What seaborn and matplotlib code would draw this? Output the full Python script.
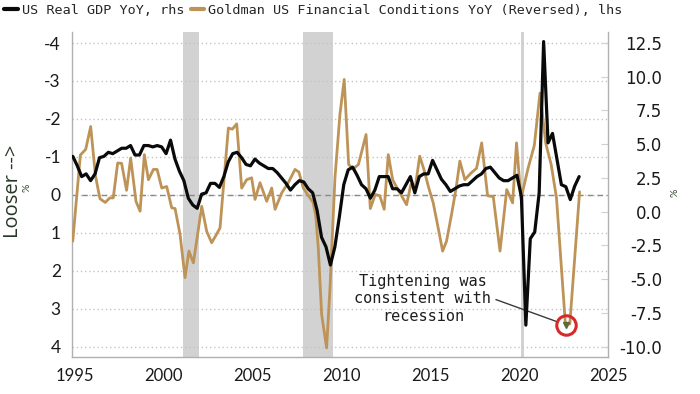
import numpy as np
import pandas as pd
import matplotlib
matplotlib.use("Agg")
import matplotlib.pyplot as plt
from matplotlib.ticker import FixedLocator
import seaborn as sns

# ---------------- data ----------------
gdp_label = "US Real GDP YoY, rhs"
fci_label = "Goldman US Financial Conditions YoY (Reversed), lhs"

# US real GDP YoY (%), quarterly, first point 1994 Q4
gdp_first_quarter = 1994.875
gdp_values = [
    4.1,
    3.4, 2.6, 2.8, 2.3,      # 1995
    2.8, 4.0, 4.1, 4.4,      # 1996
    4.3, 4.5, 4.7, 4.7,      # 1997
    4.9, 4.2, 4.2, 4.9,      # 1998
    4.9, 4.8, 4.9, 4.8,      # 1999
    4.3, 5.3, 3.9, 3.0,      # 2000
    2.3, 1.0, 0.5, 0.25,     # 2001
    1.3, 1.4, 2.1, 2.1,      # 2002
    1.8, 2.6, 3.7, 4.3,      # 2003
    4.4, 4.0, 3.5, 3.4,      # 2004
    3.9, 3.6, 3.4, 3.2,      # 2005
    3.2, 2.9, 2.5, 2.1,      # 2006
    1.6, 2.0, 2.3, 2.2,      # 2007
    1.7, 1.4, 0.1, -1.9,     # 2008
    -2.6, -3.95, -2.6, -0.4, # 2009
    2.0, 3.1, 3.3, 2.7,      # 2010
    2.0, 1.7, 1.0, 1.6,      # 2011
    2.6, 2.6, 2.6, 1.7,      # 2012
    1.7, 1.4, 2.0, 2.6,      # 2013
    1.4, 2.6, 2.8, 2.8,      # 2014
    3.8, 3.1, 2.4, 2.0,      # 2015
    1.5, 1.7, 1.9, 2.0,      # 2016
    2.0, 2.3, 2.6, 2.8,      # 2017
    3.2, 3.3, 2.9, 2.5,      # 2018
    2.3, 2.3, 2.5, 2.7,      # 2019
    1.1, -8.4, -2.0, -1.5,   # 2020
    1.4, 12.6, 5.1, 5.8,     # 2021
    3.9, 2.0, 1.85, 0.9,     # 2022
    1.9, 2.6,                # 2023
]

# Goldman FCI YoY change (axis reversed)
fci_dates = [
    1994.87, 1995.30, 1995.60, 1995.88, 1996.15, 1996.40, 1996.70, 1996.95,
    1997.15, 1997.40, 1997.62, 1997.90, 1998.13, 1998.43, 1998.66, 1998.90,
    1999.13, 1999.41, 1999.62, 1999.88, 2000.16, 2000.44, 2000.63, 2000.91,
    2001.19, 2001.41, 2001.66, 2001.88, 2002.13, 2002.41, 2002.69, 2002.95,
    2003.16, 2003.44, 2003.63, 2003.85, 2004.10, 2004.38, 2004.66, 2004.94,
    2005.13, 2005.41, 2005.79, 2006.07, 2006.26, 2006.63, 2007.00, 2007.38,
    2007.60, 2007.85, 2008.10, 2008.40, 2008.55, 2008.69, 2008.88, 2009.16,
    2009.35, 2009.63, 2009.91, 2010.15, 2010.40, 2010.65, 2010.95, 2011.38,
    2011.62, 2011.90, 2012.15, 2012.40, 2012.63, 2012.88, 2013.10, 2013.35,
    2013.66, 2013.90, 2014.13, 2014.40, 2014.65, 2014.90, 2015.16, 2015.44,
    2015.69, 2015.91, 2016.19, 2016.45, 2016.66, 2016.94, 2017.30, 2017.60,
    2017.89, 2018.22, 2018.54, 2018.92, 2019.30, 2019.63, 2019.85, 2020.10,
    2020.50, 2020.85, 2021.17, 2021.50, 2021.80, 2022.10, 2022.60, 2022.85,
    2023.40,
]
fci_values = [
    1.22, -1.05, -1.20, -1.80, -0.50, 0.10, 0.20, 0.08,
    0.08, -0.84, -0.83, -0.12, -0.97, 0.17, 0.43, -1.06,
    -0.40, -0.67, -0.67, -0.18, -0.22, 0.34, 0.36, 1.04,
    2.18, 1.48, 1.79, 1.10, 0.30, 0.96, 1.26, 1.05,
    0.87, -0.71, -1.76, -1.73, -1.87, -0.18, -0.40, -0.45,
    0.12, -0.32, 0.17, -0.18, 0.38, -0.05, -0.32, -0.67,
    -0.60, -0.18, 0.00, 0.20, 0.55, 1.39, 3.15, 4.03,
    2.45, -0.45, -2.12, -3.04, -0.80, -0.68, -0.80, -1.59,
    0.36, -0.01, 0.02, 0.38, -1.06, -0.40, -0.20, 0.00,
    0.26, -0.27, -0.14, -1.02, -0.65, -0.20, 0.21, 0.87,
    1.48, 1.22, 0.52, -0.18, -0.89, -0.40, -0.58, -0.70,
    -1.37, 0.02, 0.05, 1.48, -0.14, 0.21, -1.37, 0.10,
    -0.70, -1.30, -2.68, -1.35, -0.80, 0.08, 3.40, 3.40,
    -0.08,
]

recession_start = [2001.06, 2007.81, 2020.08]
recession_end = [2001.99, 2009.50, 2020.27]

left_ticks = [-4, -3, -2, -1, 0, 1, 2, 3, 4]
right_ticks = [-10.0, -7.5, -5.0, -2.5, 0.0, 2.5, 5.0, 7.5, 10.0, 12.5]
x_ticks = [1995, 2000, 2005, 2010, 2015, 2020, 2025]

annotation_text = "Tightening was\nconsistent with\nrecession"
highlight_point = (2022.66, 3.43)

gdp_df = pd.DataFrame({
    "date": gdp_first_quarter + 0.25 * np.arange(len(gdp_values)),
    "gdp": gdp_values,
})
fci_df = pd.DataFrame({"date": fci_dates, "fci": fci_values})

# ---------------- style ----------------
sns.set_style("white")
plt.rcParams["axes.unicode_minus"] = False
plt.rcParams["font.family"] = ["Lato", "DejaVu Sans"]

BLACK = "#0a0a0a"
TAN = "#bd9357"
GREY_SPINE = "#b0b0b0"

fig = plt.figure(figsize=(7.0, 3.94), dpi=100)
ax = fig.add_axes([0.1029, 0.0939, 0.7657, 0.8249])
ax2 = ax.twinx()

# recession shading
for s, e in zip(recession_start, recession_end):
    ax.axvspan(s, e, color="#d2d2d2", lw=0, zorder=0)

# gridlines / zero line
ax.set_yticks(left_ticks)
ax.yaxis.grid(True, linestyle=(0, (1, 2)), color="#c4c4c4", lw=1.0)
ax.xaxis.grid(False)
ax.axhline(0, color="#8a8a8a", ls=(0, (4, 3)), lw=1.0, zorder=1)

sns.lineplot(data=fci_df, x="date", y="fci", ax=ax, color=TAN, lw=2.0,
             label=fci_label, legend=False, zorder=3)
sns.lineplot(data=gdp_df, x="date", y="gdp", ax=ax2, color=BLACK, lw=2.3,
             label=gdp_label, legend=False, zorder=4)

# axes limits
ax.set_xlim(1994.83, 2025.0)
ax.set_ylim(4.27, -4.29)
ax2.set_ylim(-10.76, 13.31)

# x axis
ax.set_xticks(x_ticks)
ax.set_xticklabels([str(t) for t in x_ticks])
ax.tick_params(axis="x", direction="out", length=4, width=0.8, color=GREY_SPINE,
               labelsize=12, labelcolor="#1a1a1a", pad=4)

# left y axis
ax.set_yticklabels([str(t) for t in left_ticks])
ax.tick_params(axis="y", length=0, labelsize=12.5, labelcolor="#1a1a1a", pad=8)

# right y axis
ax2.yaxis.set_major_locator(FixedLocator(right_ticks))
ax2.set_yticklabels([f"{v:.1f}" for v in right_ticks])
ax2.tick_params(axis="y", direction="in", length=5, width=0.8, color="#d0d0d0",
                labelsize=12, labelcolor="#1a1a1a", pad=39)

ax.set_xlabel("")
ax.set_ylabel("")
ax2.set_ylabel("")

for a in (ax, ax2):
    for sp in a.spines.values():
        sp.set_visible(False)
ax.spines["left"].set_visible(True)
ax.spines["bottom"].set_visible(True)
ax2.spines["right"].set_visible(True)
for sp in (ax.spines["left"], ax.spines["bottom"], ax2.spines["right"]):
    sp.set_color(GREY_SPINE)
    sp.set_linewidth(1.0)

# axis titles
fig.text(0.019, 0.515, "Looser -->", rotation=90, ha="center", va="center",
         fontsize=14.5, color="#263626", family=["Open Sans", "DejaVu Sans"])
fig.text(0.038, 0.523, "%", rotation=90, ha="center", va="center",
         fontsize=7.5, color="#2e4a2e")
fig.text(0.964, 0.51, "%", rotation=90, ha="center", va="center",
         fontsize=7.5, color="#2e4a2e")

# highlight circle
ax.plot([highlight_point[0]], [highlight_point[1]], marker="o", ms=14,
        mfc="none", mec="#d42a2a", mew=2.2, zorder=6)
ax.plot([highlight_point[0]], [highlight_point[1]], marker="v", ms=4,
        color="#5a6a3a", zorder=6)

# annotation
ax.annotate(annotation_text, xy=highlight_point, xytext=(2014.58, 2.74),
            textcoords="data", ha="center", va="center",
            fontsize=11, family="DejaVu Sans Mono", color="#1e1e1e",
            linespacing=1.2,
            arrowprops=dict(arrowstyle="-", color="#3a3a3a", lw=1.0,
                            relpos=(1.0, 0.52), shrinkA=1, shrinkB=8),
            zorder=7)

# legend
h_gdp = [l for l in ax2.get_lines() if l.get_label() == gdp_label][0]
h_fci = [l for l in ax.get_lines() if l.get_label() == fci_label][0]
leg = fig.legend([h_gdp, h_fci], [gdp_label, fci_label], loc="upper left",
                 bbox_to_anchor=(0.0, 1.0), ncol=2, frameon=False,
                 handlelength=1.0, handletextpad=0.3, columnspacing=0.5,
                 borderaxespad=0.1, borderpad=0.2,
                 prop={"family": "DejaVu Sans Mono", "size": 9.7})
for lh in leg.get_lines():
    lh.set_linewidth(3.0)

# right-align right tick labels
fig.canvas.draw()
for lab in ax2.get_yticklabels():
    lab.set_horizontalalignment("right")
    lab.set_fontfamily("DejaVu Sans")

fig.savefig("out.png", dpi=100)
